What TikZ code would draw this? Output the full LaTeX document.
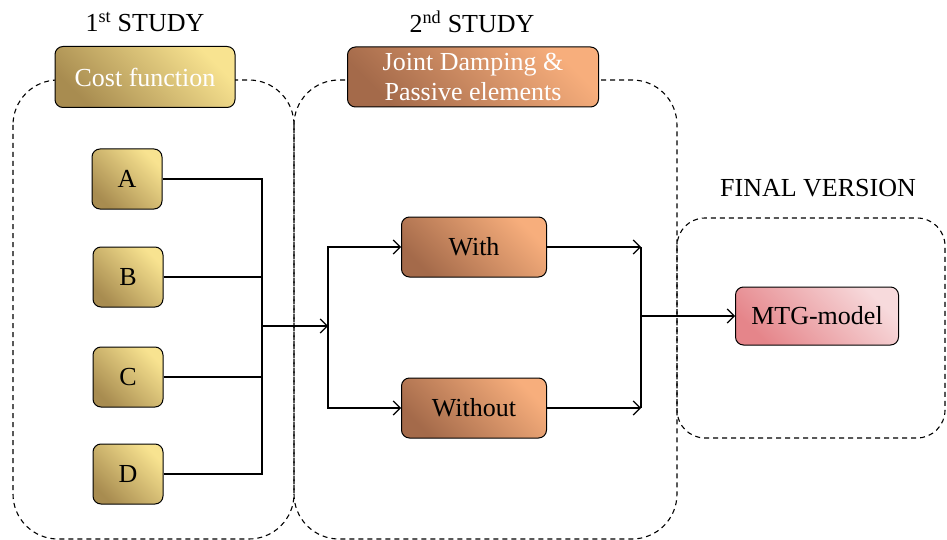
\documentclass[tikz,border=0pt]{standalone}
\usepackage{fontspec}
\setmainfont{Liberation Serif}
\usetikzlibrary{arrows.meta}

\definecolor{goldL}{HTML}{F8E390}
\definecolor{goldD}{HTML}{A88C50}
\definecolor{orngL}{HTML}{F7AE7C}
\definecolor{orngD}{HTML}{A46A4A}
\definecolor{pinkL}{HTML}{F7DADC}
\definecolor{pinkD}{HTML}{E5858A}

\begin{document}
\begin{tikzpicture}[x=1pt, y=-1pt,
  every node/.style={font=\fontsize{26}{30}\selectfont},
  box/.style={draw=black, line width=1pt, rounded corners=8pt, inner sep=0pt, align=center},
  goldbox/.style={box, bottom color=goldD, top color=goldL, shading angle=-45},
  orngbox/.style={box, bottom color=orngD, top color=orngL, shading angle=-45},
  pinkbox/.style={box, bottom color=pinkD, top color=pinkL, shading angle=-45},
  group/.style={draw=black, dash pattern=on 5pt off 4pt, line width=1.1pt},
  link/.style={draw=black, line width=1.2pt},
  arr/.style={link, -{Straight Barb[length=7pt,width=14pt,line width=1.2pt]}}]
  \useasboundingbox (0,0) rectangle (947,540);

  % Dashed study groups
  \draw[group, rounded corners=45pt] (13,80) rectangle (294,539);
  \draw[group, rounded corners=45pt] (294,80) rectangle (677,539);
  \draw[group, rounded corners=28pt] (677,218) rectangle (945,438);

  % Titles
  \node (title1) at (145,22) {1\textsuperscript{st} STUDY};
  \node (title2) at (472,22) {2\textsuperscript{nd} STUDY};
  \node (title3) at (818,188) {FINAL VERSION};

  % 1st study: cost functions
  \node[goldbox, minimum width=180pt, minimum height=61pt, text=white] (costfn) at (145,77) {Cost function};
  \node[goldbox, minimum width=70pt, minimum height=60pt] (boxA) at (127,179) {A};
  \node[goldbox, minimum width=70pt, minimum height=60pt] (boxB) at (128,277) {B};
  \node[goldbox, minimum width=70pt, minimum height=60pt] (boxC) at (128,377) {C};
  \node[goldbox, minimum width=70pt, minimum height=60pt] (boxD) at (128,474) {D};

  % 2nd study: damping
  \node[orngbox, minimum width=251pt, minimum height=60pt, text=white] (damping) at (473,77) {Joint Damping \&\\Passive elements};
  \node[orngbox, minimum width=145pt, minimum height=60pt] (with) at (474,247) {With};
  \node[orngbox, minimum width=145pt, minimum height=60pt] (without) at (474,408) {Without};

  % Final version
  \node[pinkbox, minimum width=163pt, minimum height=58pt] (mtg) at (817,316) {MTG-model};

  % Connectors
  \coordinate (busL) at (262,326);
  \coordinate (split) at (328,326);
  \coordinate (merge) at (641,316);
  \foreach \b in {boxA,boxB,boxC,boxD} {
    \draw[link] (\b) -| (busL);
  }
  \draw[arr] (busL) -- (split);
  \draw[arr] (split) |- (with);
  \draw[arr] (split) |- (without);
  \draw[arr] (with) -- (with -| merge);
  \draw[arr] (without) -- (without -| merge);
  \draw[link] (with -| merge) -- (without -| merge);
  \draw[arr] (merge) -- (mtg);
\end{tikzpicture}
\end{document}
